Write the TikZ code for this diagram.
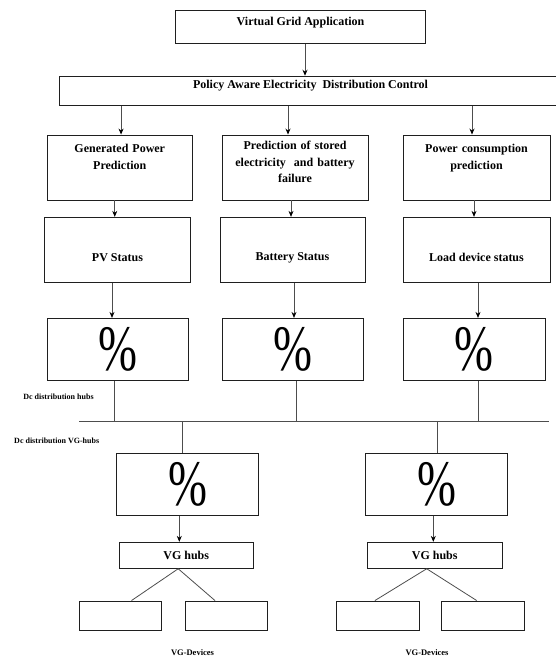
\documentclass[tikz,border=0pt]{standalone}
\usepackage{fontspec}
\setmainfont{Liberation Serif}
\usepackage{tikz}
\usetikzlibrary{positioning, arrows.meta, calc}
\definecolor{boxline}{HTML}{1F1F1F}
\definecolor{wire}{HTML}{4D4D4D}

\begin{document}
\begin{tikzpicture}[x=1pt, y=-1pt, font=\bfseries\fontsize{12}{16.5}\selectfont,
    box/.style={draw=boxline, line width=0.9pt, inner sep=2pt, align=center},
    pct/.style={box, minimum width=141, minimum height=61.7, font=\fontsize{60}{62}\selectfont},
    small/.style={font=\bfseries\fontsize{8}{9}\selectfont},
    arr/.style={wire, line width=0.8pt, -{Stealth[length=6pt, width=5pt, color=black]}},
    wireline/.style={wire, line width=0.8pt}]
  \useasboundingbox (0,0) rectangle (556,658);

  \node[box, minimum width=250, minimum height=33.5, text depth=12pt] (app) at (300.5,27) {Virtual Grid Application};
  \node[box, minimum width=503, minimum height=29, text depth=12pt] (policy) at (310.5,90.7)
    {Policy Aware Electricity\ \ Distribution Control};

  % prediction row
  \node[box, minimum width=145.5, minimum height=65, text width=140] (genpred) at (119.75,167.5)
    {Generated Power\\Prediction\\[5pt] \mbox{}};
  \node[box, minimum width=146, minimum height=65, text width=140] (storepred) at (295,167.5)
    {Prediction of stored\\electricity\ \ and battery\\failure\\[-6pt] \mbox{}};
  \node[box, minimum width=147, minimum height=65, text width=140] (loadpred) at (476.5,167.5)
    {Power consumption\\prediction\\[5pt] \mbox{}};

  % status row
  \node[box, minimum width=145.7, minimum height=65, text height=24pt] (pvstat) at (117.5,249.8) {PV Status};
  \node[box, minimum width=145, minimum height=65, text height=24pt] (batstat) at (292.5,249.8) {Battery Status};
  \node[box, minimum width=147, minimum height=65, text height=24pt] (loadstat) at (476.5,249.8) {Load device status};

  % percentage row
  \node[pct] (pvpct) at (117.5,349.2) {\scalebox{0.78}[1.08]{\%}};
  \node[pct, minimum width=141.5] (batpct) at (292.75,349.2) {\scalebox{0.78}[1.08]{\%}};
  \node[pct, minimum width=142] (loadpct) at (474,349.2) {\scalebox{0.78}[1.08]{\%}};

  \node[small] (hublab) at (58.5,397) {Dc distribution hubs};
  \node[small] (vghublab) at (56.7,441) {Dc distribution VG-hubs};
  \coordinate (busL) at (79,421);
  \coordinate (busR) at (549,421);

  % VG hubs
  \node[pct, minimum width=142] (vgpctA) at (187.7,484.2) {\scalebox{0.78}[1.08]{\%}};
  \node[pct, minimum width=141.6] (vgpctB) at (436.5,484.2) {\scalebox{0.78}[1.08]{\%}};
  \node[box, minimum width=134.3, minimum height=26] (vghubA) at (186.2,555.3) {VG hubs};
  \node[box, minimum width=134.7, minimum height=26] (vghubB) at (434.7,555.3) {VG hubs};

  \node[box, minimum width=82.4, minimum height=29] (devA) at (120.5,615.5) {};
  \node[box, minimum width=82, minimum height=29] (devB) at (226,615.5) {};
  \node[box, minimum width=82.3, minimum height=29] (devC) at (377.9,615.5) {};
  \node[box, minimum width=83.3, minimum height=29] (devD) at (482.7,615.5) {};
  \node[small, font=\bfseries\fontsize{8.5}{9}\selectfont] (devlabA) at (192.5,653) {VG-Devices};
  \node[small, font=\bfseries\fontsize{8.5}{9}\selectfont] (devlabB) at (427,653) {VG-Devices};

  % connectors
  \draw[arr] ([xshift=4.5pt]app.south) -- ([xshift=4.5pt]app.south |- policy.north);
  \foreach \n/\s in {genpred/1.3, storepred/-7, loadpred/-4.5}
    \draw[arr] ([xshift=\s pt]\n.north |- policy.south) -- ([xshift=\s pt]\n.north);
  \draw[arr] ([xshift=-5pt]genpred.south) -- ([xshift=-5pt]genpred.south |- pvstat.north);
  \draw[arr] ([xshift=-4pt]storepred.south) -- ([xshift=-4pt]storepred.south |- batstat.north);
  \draw[arr] ([xshift=-2.5pt]loadpred.south) -- ([xshift=-2.5pt]loadpred.south |- loadstat.north);
  \draw[arr] ([xshift=-5.5pt]pvstat.south) -- ([xshift=-5.5pt]pvstat.south |- pvpct.north);
  \draw[arr] ([xshift=1.5pt]batstat.south) -- ([xshift=1.5pt]batstat.south |- batpct.north);
  \draw[arr] ([xshift=1.5pt]loadstat.south) -- ([xshift=1.5pt]loadstat.south |- loadpct.north);

  \draw[wireline] (busL) -- (busR);
  \draw[wireline] ([xshift=-3pt]pvpct.south) -- ([xshift=-3pt]pvpct.south |- busL);
  \draw[wireline] ([xshift=3.75pt]batpct.south) -- ([xshift=3.75pt]batpct.south |- busL);
  \draw[wireline] ([xshift=4.7pt]loadpct.south) -- ([xshift=4.7pt]loadpct.south |- busL);
  \draw[wireline] ([xshift=-5.7pt]vgpctA.north |- busL) -- ([xshift=-5.7pt]vgpctA.north);
  \draw[wireline] ([xshift=1.2pt]vgpctB.north |- busL) -- ([xshift=1.2pt]vgpctB.north);

  \draw[arr] ([xshift=-8.4pt]vgpctA.south) -- ([xshift=-8.4pt]vgpctA.south |- vghubA.north);
  \draw[arr] ([xshift=-3.2pt]vgpctB.south) -- ([xshift=-3.2pt]vgpctB.south |- vghubB.north);

  \draw[wireline] ([xshift=-8pt]vghubA.south) -- ([xshift=11pt]devA.north);
  \draw[wireline] ([xshift=-8pt]vghubA.south) -- ([xshift=-11pt]devB.north);
  \draw[wireline] ([xshift=-8pt]vghubB.south) -- ([xshift=-3pt]devC.north);
  \draw[wireline] ([xshift=-8pt]vghubB.south) -- ([xshift=-6pt]devD.north);
\end{tikzpicture}
\end{document}
